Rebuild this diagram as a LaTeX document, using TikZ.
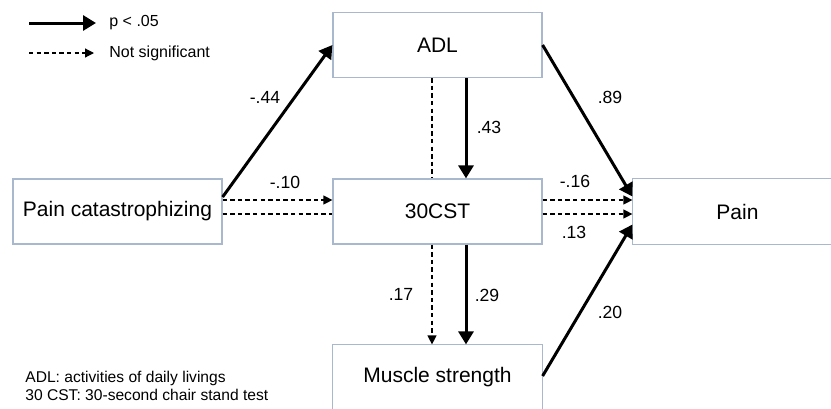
\documentclass[tikz,border=0pt]{standalone}
\usepackage{fontspec}
\setmainfont{Liberation Sans}
\usepackage{xcolor}
\definecolor{cBox}{HTML}{A9B8CC}
\definecolor{cLine}{HTML}{000000}
\usetikzlibrary{arrows.meta,calc}
\tikzset{
  var-box/.style={draw=cBox,line width=0.6pt,rectangle,inner sep=0pt,
    minimum width=104.5pt,minimum height=32.5pt,align=center,
    font=\fontsize{10.5}{12}\selectfont},
  box-edge/.style={draw=cBox,line width=0.6pt},
  path-sig/.style={-{Triangle[length=6.5pt,width=7.5pt]},line width=1.5pt,draw=cLine},
  path-ns/.style={-{Triangle[length=4.5pt,width=4.5pt]},line width=0.6pt,
    dash pattern=on 2.2pt off 1.6pt,draw=cLine},
  path-ns-plain/.style={line width=0.6pt,dash pattern=on 2.2pt off 1.6pt,draw=cLine},
  coef-label/.style={inner sep=1pt,font=\fontsize{8.8}{10}\selectfont},
  legend-text/.style={anchor=west,inner sep=0pt,font=\fontsize{8}{9.5}\selectfont},
  note-text/.style={anchor=west,inner sep=0pt,font=\fontsize{7.8}{9}\selectfont},
}

\begin{document}
\begin{tikzpicture}[x=0.5pt,y=-0.5pt]
  \useasboundingbox (0,0) rectangle (831,408);
  % variables
  \node[var-box]                         (adl)  at (437.5,45)   {ADL};
  \node[var-box]                         (cst)  at (437.5,211.5) {30CST};
  \node[var-box]                         (pc)   at (117.5,211.5) {Pain catastrophizing};
  % these two run off the edge of the figure
  \node[var-box,draw=none]               (pain) at (737.5,211.5) {Pain};
  \node[var-box,draw=none]               (musc) at (437.5,377.5) {Muscle strength};
  \draw[box-edge] (pain.north east) -- (pain.north west) -- (pain.south west) -- (pain.south east);
  \draw[box-edge] (musc.south west) -- (musc.north west) -- (musc.north east) -- (musc.south east);
  % paths
  \draw[path-sig] ($(pc.east)+(0,-14.5)$) -- (adl.west);
  \draw[path-ns] ($(pc.east)+(0,-11.5)$) -- ($(cst.west)+(0,-11.5)$);
  \draw[path-ns-plain] ($(pc.east)+(0,2.5)$) -- ($(cst.west)+(0,2.5)$);
  \draw[path-ns-plain] ($(adl.south)+(-5.5,0)$) -- ($(cst.north)+(-5.5,0)$);
  \draw[path-sig] ($(adl.south)+(28.5,0)$) -- ($(cst.north)+(28.5,0)$);
  \draw[path-ns] ($(cst.south)+(-5.5,0)$) -- ($(musc.north)+(-5.5,0)$);
  \draw[path-sig] ($(cst.south)+(28.5,0)$) -- ($(musc.north)+(28.5,0)$);
  \draw[path-sig] (adl.east) -- ($(pain.west)+(0,-15)$);
  \draw[path-ns] ($(cst.east)+(0,-11.5)$) -- ($(pain.west)+(0,-11.5)$);
  \draw[path-ns] ($(cst.east)+(0,2.5)$) -- ($(pain.west)+(0,2.5)$);
  \draw[path-sig] ($(musc.east)+(0,-1.5)$) -- ($(pain.west)+(0,13)$);
  % coefficients
  \node[coef-label] (c-pc-adl)   at (265,97)  {-.44};
  \node[coef-label] (c-pc-cst)   at (285,182) {-.10};
  \node[coef-label] (c-adl-cst)  at (489,127) {.43};
  \node[coef-label] (c-adl-pain) at (610,97)  {.89};
  \node[coef-label] (c-cst-pn1)  at (575,181) {-.16};
  \node[coef-label] (c-cst-pn2)  at (574,232) {.13};
  \node[coef-label] (c-cst-ms1)  at (401,294) {.17};
  \node[coef-label] (c-cst-ms2)  at (487,295) {.29};
  \node[coef-label] (c-ms-pain)  at (610,312) {.20};
  % legend
  \coordinate (leg-sig-a) at (29,23);
  \coordinate (leg-sig-b) at (96,23);
  \coordinate (leg-ns-a)  at (29,53);
  \coordinate (leg-ns-b)  at (94,53);
  \draw[path-sig] (leg-sig-a) -- (leg-sig-b);
  \draw[path-ns]  (leg-ns-a) -- (leg-ns-b);
  \node[legend-text] (leg-sig) at (109,23) {p < .05};
  \node[legend-text] (leg-ns)  at (109,53) {Not significant};
  % abbreviations
  \node[note-text] (note-adl) at (25,378) {ADL: activities of daily livings};
  \node[note-text] (note-cst) at (25,395) {30 CST: 30-second chair stand test};
\end{tikzpicture}
\end{document}
